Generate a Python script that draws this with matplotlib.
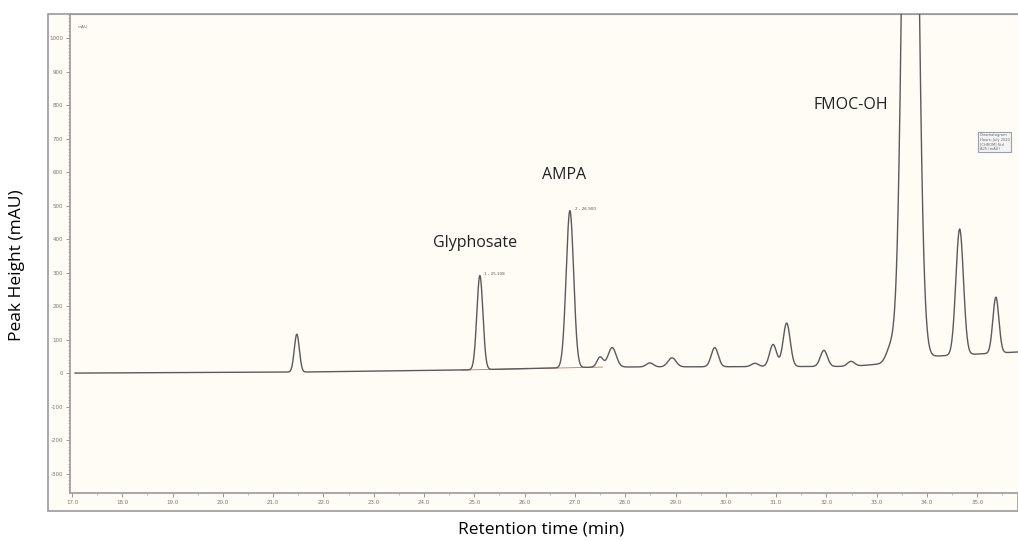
import numpy as np
import matplotlib
matplotlib.use("Agg")
import matplotlib.pyplot as plt
from matplotlib.patches import Rectangle

# ---- data ----
peak_times = [21.47, 25.11, 26.90, 27.50, 27.74, 28.49, 28.93, 29.78, 30.58,
              30.94, 31.21, 31.95, 32.49, 33.28, 33.67, 34.65, 35.37]
peak_heights = [113, 281, 469, 30, 58, 12, 27, 57, 10,
                66, 130, 48, 15, 45, 3000, 376, 167]
peak_sigmas = [0.05, 0.06, 0.074, 0.06, 0.08, 0.07, 0.08, 0.07, 0.07,
               0.07, 0.07, 0.07, 0.07, 0.09, 0.125, 0.075, 0.06]
baseline_t = [17.06, 21.5, 24.7, 27.5, 32.5, 33.3, 34.1, 35.81]
baseline_y = [0, 3, 9, 18, 20, 30, 50, 63]
integ_t = [24.75, 27.55]
integ_y = [9, 18]
x_ticks = [17.0 + i for i in range(19)]
x_ticklabels = [f"{v:.1f}" for v in x_ticks]
y_ticks = list(range(-300, 1001, 100))
peak_names = ["Glyphosate", "AMPA", "FMOC-OH"]
peak_tags = ["1 - 25.108", "2 - 26.900"]

# ---- trace ----
t = np.linspace(17.06, 35.81, 6000)
signal = np.interp(t, baseline_t, baseline_y)
for tc, h, s in zip(peak_times, peak_heights, peak_sigmas):
    signal = signal + h * np.exp(-0.5 * ((t - tc) / s) ** 2)

W, H = 1018, 541
fig = plt.figure(figsize=(W / 100, H / 100), dpi=100)
fig.patch.set_facecolor("white")

# outer frame of the screenshot
fig.patches.append(Rectangle((48 / W, 1 - 511 / H), (W - 48) / W, (511 - 14) / H,
                             transform=fig.transFigure, facecolor="#fffcf5",
                             edgecolor="#9a9a9a", linewidth=1.2, zorder=-5))

ax = fig.add_axes([70 / W, 48 / H, (W - 70) / W, (493 - 14) / H])
ax.set_zorder(2)
ax.set_facecolor("#fffcf5")
ax.plot(t, signal, color="#5a5a5a", linewidth=1.0, zorder=3)
ax.plot(integ_t, integ_y, color="#c8785a", linewidth=0.6, zorder=2)

ax.set_xlim(16.96, 35.81)
ax.set_ylim(-358, 1072)
ax.set_xticks(x_ticks)
ax.set_xticklabels(x_ticklabels, fontsize=4, color="#777777")
ax.set_yticks(y_ticks)
ax.set_yticklabels([str(v) for v in y_ticks], fontsize=4, color="#777777")
ax.set_xticks(np.arange(17.0, 35.8, 0.5), minor=True)
ax.set_yticks(np.arange(-350, 1071, 10), minor=True)
ax.tick_params(axis="both", which="major", length=3, width=0.6, color="#888888", pad=2)
ax.tick_params(axis="both", which="minor", length=1.5, width=0.4, color="#999999")
for side in ["left", "bottom"]:
    ax.spines[side].set_color("#9a9a9a")
    ax.spines[side].set_linewidth(1.2)
ax.spines["right"].set_visible(False)
ax.spines["top"].set_color("#9a9a9a")

ax.text(17.12, 1040, "mAU", fontsize=3, color="#777777", va="top")

# annotations
font = "Open Sans"
ax.text(25.01, 389, peak_names[0], fontsize=11.5, family=font, ha="center", va="center", color="#222222")
ax.text(26.79, 591, peak_names[1], fontsize=11.5, family=font, ha="center", va="center", color="#222222")
ax.text(32.48, 800, peak_names[2], fontsize=11.5, family=font, ha="center", va="center", color="#222222")
ax.text(25.2, 297, peak_tags[0], fontsize=3, color="#555555", va="center")
ax.text(27.0, 490, peak_tags[1], fontsize=3, color="#555555", va="center")

# small legend box
ax.text(35.05, 690, "Chromatogram\nHours: July 2020\n[CHROM] Std\nA25 (mAU)", fontsize=2.6,
        color="#666666", va="center", linespacing=1.2,
        bbox=dict(boxstyle="square,pad=0.4", facecolor="#f4f4f4", edgecolor="#9aa0b0", linewidth=0.8))

fig.text(17 / W, 1 - 265 / H, "Peak Height (mAU)", rotation=90, fontsize=12.5, family=font,
         ha="center", va="center")
fig.text(541 / W, 1 - 529 / H, "Retention time (min)", fontsize=12.5, family=font,
         ha="center", va="center")

fig.savefig("out.png", dpi=100)
